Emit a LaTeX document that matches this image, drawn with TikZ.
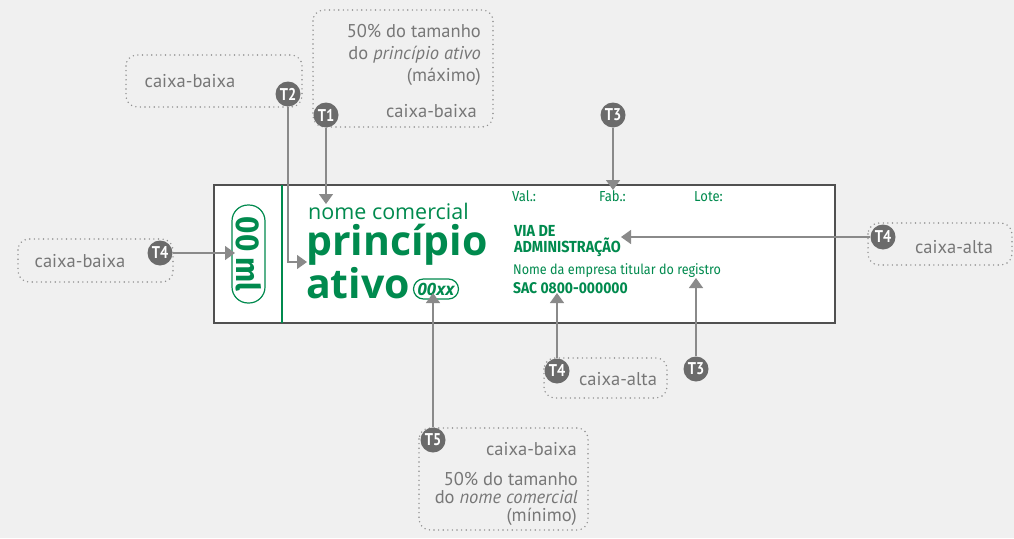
\documentclass[tikz,border=0pt]{standalone}
\usepackage{fontspec}
\setmainfont{PT Sans}
\newfontfamily\labelfont{Open Sans}
\newfontfamily\condfont[FakeStretch=0.9]{Fira Sans}
\newfontfamily\badgefont[FakeStretch=0.85]{PT Sans}
\usetikzlibrary{arrows.meta}

\definecolor{bggray}{HTML}{F0F0F0}
\definecolor{rxgreen}{HTML}{008A4E}
\definecolor{framegray}{HTML}{505050}
\definecolor{linegray}{HTML}{8A8A8A}
\definecolor{badgegray}{HTML}{6B6B6B}
\definecolor{dotgray}{HTML}{909090}
\definecolor{notegray}{HTML}{777777}

\begin{document}
\begin{tikzpicture}[x=1pt,y=-1pt,
	badge/.style={circle,fill=badgegray,text=white,inner sep=0pt,minimum size=25pt,font=\badgefont\bfseries\fontsize{17}{17}\selectfont},
	pointer/.style={draw=linegray,line width=1.4pt,-{Triangle[width=14pt,length=10pt]}},
	notebox/.style={draw=dotgray,line width=1.6pt,line cap=round,dash pattern=on 0pt off 4.6pt,rounded corners=11pt},
	note/.style={text=notegray,inner sep=0pt,font=\fontsize{18.5}{22}\selectfont},
	labeltext/.style={text=rxgreen,inner sep=0pt,anchor=base west},
	]
	%background and margins
	\fill[bggray] (0,0) rectangle (1014,538);
	\useasboundingbox (0,0) rectangle (1014,538);
	
	%dotted note boxes
	\draw[notebox] (126,55) rectangle (302,107);
	\draw[notebox] (313,10) rectangle (493,127);
	\draw[notebox] (18,239) rectangle (173,282);
	\draw[notebox] (544,358) rectangle (667,398);
	\draw[notebox] (868,223) rectangle (1012,265);
	\draw[notebox] (419,428) rectangle (588,530);
	
	%label
	\draw[framegray,line width=1.5pt,fill=white] (214,185) rectangle (835,323);
	\draw[rxgreen,line width=2.5pt] (282,185) -- (282,323);
	
	\node[draw=rxgreen,line width=1.2pt,rounded corners=16pt,minimum width=98pt,minimum height=33pt,inner sep=0pt,rotate=-90,text=rxgreen,font=\condfont\bfseries\fontsize{33}{33}\selectfont] (volume) at (248.5,254) {00\,ml};
	
	\node[labeltext,font=\labelfont\fontsize{21.5}{21.5}\selectfont] (brand) at (308,219) {nome comercial};
	\node[labeltext,font=\labelfont\bfseries\fontsize{41}{41}\selectfont] (active1) at (306,255) {princípio};
	\node[labeltext,font=\labelfont\bfseries\fontsize{41}{41}\selectfont] (active2) at (306,298) {ativo};
	\node[draw=rxgreen,line width=1.2pt,rounded corners=10pt,minimum width=45pt,minimum height=20pt,inner sep=0pt,text=rxgreen,font=\labelfont\bfseries\itshape\fontsize{17}{17}\selectfont] (dose) at (436,289) {00xx};
	
	\node[labeltext,font=\condfont\fontsize{14.5}{14.5}\selectfont] (val) at (512,201) {Val.:};
	\node[labeltext,font=\condfont\fontsize{14.5}{14.5}\selectfont] (fab) at (599,201) {Fab.:};
	\node[labeltext,font=\condfont\fontsize{14.5}{14.5}\selectfont] (lote) at (694,201) {Lote:};
	\node[labeltext,font=\condfont\bfseries\fontsize{16}{16}\selectfont] (via1) at (514,236) {VIA DE};
	\node[labeltext,font=\condfont\bfseries\fontsize{16}{16}\selectfont] (via2) at (514,252) {ADMINISTRAÇÃO};
	\node[labeltext,font=\condfont\fontsize{14}{14}\selectfont] (company) at (513,274) {Nome da empresa titular do registro};
	\node[labeltext,font=\condfont\bfseries\fontsize{15.5}{15.5}\selectfont] (sac) at (513,293) {SAC 0800-000000};
	
	%badges
	\node[badge] (T1) at (326,115) {T1};
	\node[badge] (T2) at (288,94) {T2};
	\node[badge] (T3a) at (613,115) {T3};
	\node[badge] (T3b) at (696,369) {T3};
	\node[badge] (T4a) at (160,253) {T4};
	\node[badge] (T4b) at (883,237) {T4};
	\node[badge] (T4c) at (557,371) {T4};
	\node[badge] (T5) at (433,440) {T5};
	
	%arrow tips
	\coordinate (tipT1) at (326,204);
	\coordinate (tipT2) at (307,262);
	\coordinate (tipT3a) at (613,190);
	\coordinate (tipT3b) at (696,278);
	\coordinate (tipT4a) at (235,253);
	\coordinate (tipT4b) at (621,237);
	\coordinate (tipT4c) at (557,293);
	\coordinate (tipT5) at (433,293);
	
	\draw[pointer] (T1) -- (tipT1);
	\draw[pointer] (T2) |- (tipT2);
	\draw[pointer] (T3a) -- (tipT3a);
	\draw[pointer] (T3b) -- (tipT3b);
	\draw[pointer] (T4a) -- (tipT4a);
	\draw[pointer] (T4b) -- (tipT4b);
	\draw[pointer] (T4c) -- (tipT4c);
	\draw[pointer] (T5) -- (tipT5);
	
	%notes
	\node[note,anchor=base] (noteT2) at (190,87) {caixa-baixa};
	\node[note,anchor=base east] (noteT1a) at (481,37) {50\% do tamanho};
	\node[note,anchor=base east] (noteT1b) at (481,59) {do \textit{princípio ativo}};
	\node[note,anchor=base east] (noteT1c) at (481,81) {(máximo)};
	\node[note,anchor=base east] (noteT1d) at (477,117) {caixa-baixa};
	\node[note,anchor=base] (noteT4a) at (80,267) {caixa-baixa};
	\node[note,anchor=base] (noteT4b) at (954,253) {caixa-alta};
	\node[note,anchor=base] (noteT4c) at (618,385) {caixa-alta};
	\node[note,anchor=base east] (noteT5a) at (577,455) {caixa-baixa};
	\node[note,anchor=base east] (noteT5b) at (578,485) {50\% do tamanho};
	\node[note,anchor=base east] (noteT5c) at (578,503) {do \textit{nome comercial}};
	\node[note,anchor=base east] (noteT5d) at (577,521) {(mínimo)};
\end{tikzpicture}
\end{document}
